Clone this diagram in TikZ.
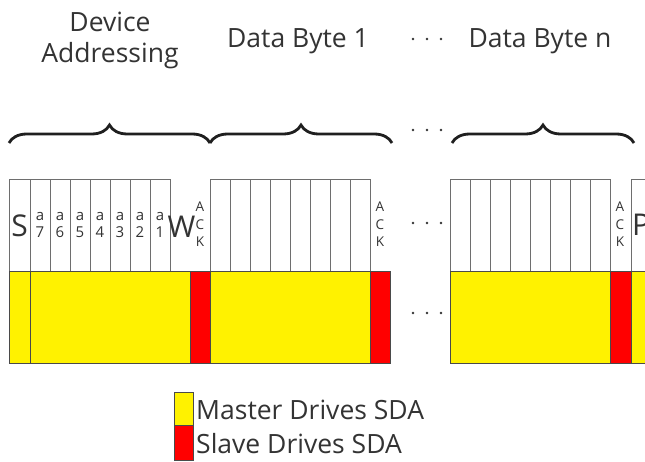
\documentclass[tikz,border=0pt]{standalone}
\usepackage{fontspec}
\setmainfont{Open Sans}
\usetikzlibrary{decorations.pathreplacing}
\definecolor{sdayel}{HTML}{FFF200}
\definecolor{sdared}{HTML}{FF0000}
\definecolor{cellgray}{HTML}{6E6E6E}
\definecolor{edgegray}{HTML}{4A4A4A}
\definecolor{txt}{HTML}{333333}
\begin{document}
\begin{tikzpicture}[x=1pt,y=-1pt,
  lbl/.style={inner sep=0pt, anchor=base, text=txt},
  big/.style={lbl, font=\fontsize{30}{30}\selectfont},
  small/.style={lbl, font=\fontsize{15}{15}\selectfont},
  ackf/.style={lbl, font=\fontsize{13.5}{13.5}\selectfont},
  head/.style={lbl, font=\fontsize{26.5}{31}\selectfont},
  legtxt/.style={lbl, anchor=base west, font=\fontsize{26.5}{30}\selectfont},
  cell/.style={draw=cellgray, line width=0.7pt},
  drive/.style={draw=edgegray, line width=0.9pt},
  brc/.style={decorate, decoration={brace, amplitude=18pt}, line width=2.8pt, draw=black!88},
  dotm/.style={circle, fill=txt, inner sep=0pt, minimum size=2.6pt}
]
\useasboundingbox (0,0) rectangle (645,462);

% ---------- headings ----------
\node[head] (hdev) at (110,32) {Device};
\node[head] (hadr) at (110,63) {Addressing};
\node[head] (hdb1) at (298,48) {Data Byte 1};
\node[head] (hdbn) at (540,48) {Data Byte n};
\foreach \x [count=\i] in {413,427,441} \node[dotm] (hd\i) at (\x,39) {};

% ---------- braces ----------
\coordinate (b1l) at (9,143);  \coordinate (b1r) at (210,143);
\coordinate (b2l) at (210,143); \coordinate (b2r) at (392,143);
\coordinate (b3l) at (452,143); \coordinate (b3r) at (634,143);
\draw[brc] (b1l) -- (b1r);
\draw[brc] (b2l) -- (b2r);
\draw[brc] (b3l) -- (b3r);
\foreach \x [count=\i] in {413,427,441} \node[dotm] (bd\i) at (\x,130) {};

% ---------- top row cells ----------
\draw[cell] (9,179) rectangle (30,271);
\foreach \x in {30,50,...,150} \draw[cell] (\x,179) rectangle (\x+20,271);
\foreach \x in {210,230,...,350} \draw[cell] (\x,179) rectangle (\x+20,271);
\foreach \x in {450,470,...,590} \draw[cell] (\x,179) rectangle (\x+20,271);
\draw[cell] (645,179) -- (631,179) -- (631,271);

% ---------- bottom row (who drives SDA) ----------
\draw[drive, fill=sdayel] (9,271) rectangle (30,363);
\draw[drive, fill=sdayel] (30,271) rectangle (190,363);
\draw[drive, fill=sdared] (190,271) rectangle (210,363);
\draw[drive, fill=sdayel] (210,271) rectangle (370,363);
\draw[drive, fill=sdared] (370,271) rectangle (390,363);
\draw[drive, fill=sdayel] (450,271) rectangle (610,363);
\draw[drive, fill=sdared] (610,271) rectangle (631,363);
\fill[sdayel] (631,271) rectangle (645,363);
\draw[drive] (645,271) -- (631,271) -- (631,363) -- (645,363);

\foreach \x [count=\i] in {413,427,441} {
  \node[dotm] (td\i) at (\x,223) {};
  \node[dotm] (ld\i) at (\x,313) {};
}

% ---------- cell texts ----------
\node[big] (tS) at (19.5,237) {S};
\foreach \d [count=\i] in {7,6,5,4,3,2,1} {
  \node[small] (ta\d) at (20+20*\i,221) {a};
  \node[small] (tn\d) at (20+20*\i,238) {\d};
}
\node[big] (tW) at (181.5,238) {W};
\foreach \x [count=\i] in {200,380,620} {
  \node[ackf] (ackA\i) at (\x,212) {A};
  \node[ackf] (ackC\i) at (\x,229.5) {C};
  \node[ackf] (ackK\i) at (\x,247) {K};
}
\node[big, anchor=base west] (tP) at (632,236) {P};

% ---------- legend ----------
\draw[drive, fill=sdayel] (174,392) rectangle (193,425);
\draw[drive, fill=sdared] (174,425) rectangle (193,460);
\node[legtxt] (lm) at (196,419) {Master Drives SDA};
\node[legtxt] (ls) at (196,453) {Slave Drives SDA};
\end{tikzpicture}
\end{document}
